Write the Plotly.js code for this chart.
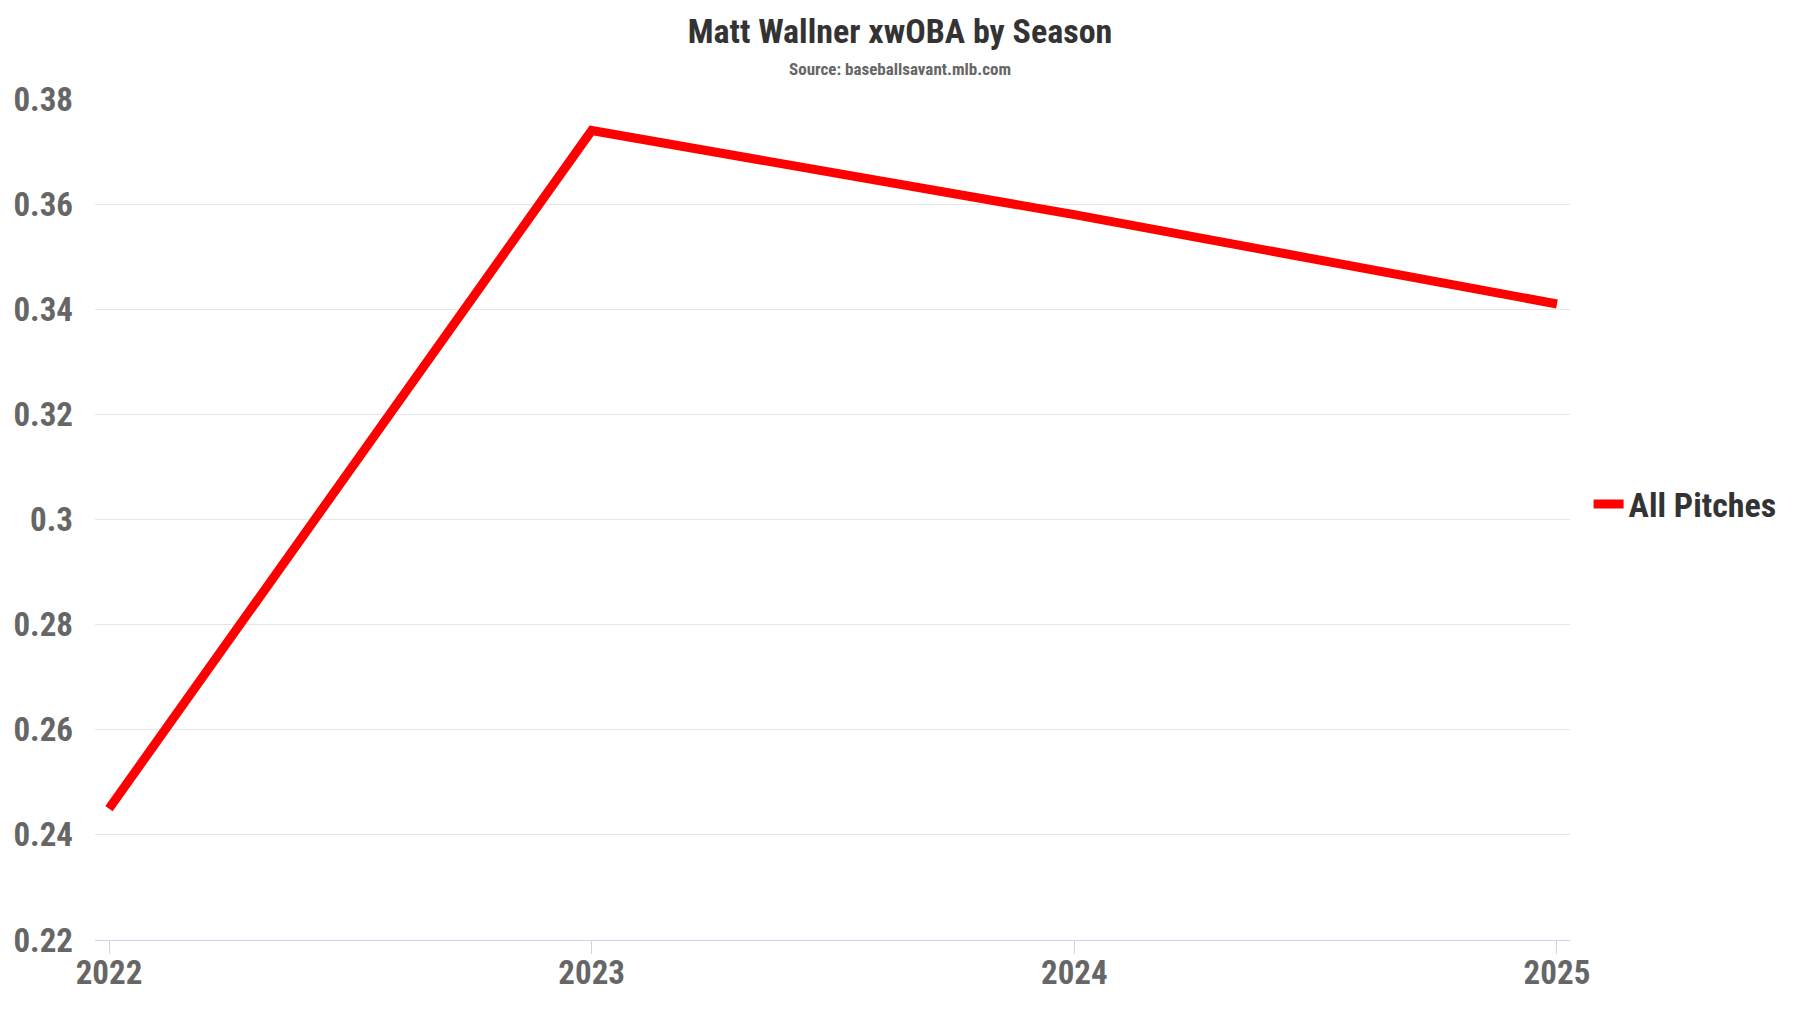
<!DOCTYPE html>
<html>
<head>
<meta charset="utf-8">
<script src="https://cdn.plot.ly/plotly-3.0.1.min.js"></script>
<style>html,body{margin:0;padding:0;background:#fff;}#chart{width:1800px;height:1013px;}</style>
</head>
<body>
<div id="chart"></div>
<script>
const seasons = [2022, 2023, 2024, 2025];
const xwoba = [0.245, 0.374, 0.358, 0.341];
const seriesName = "All Pitches";
const yTicks = [0.22, 0.24, 0.26, 0.28, 0.30, 0.32, 0.34, 0.36, 0.38];
const yTickText = ["0.22", "0.24", "0.26", "0.28", "0.3", "0.32", "0.34", "0.36", "0.38"];
const titleText = "Matt Wallner xwOBA by Season";
const subtitleText = "Source: baseballsavant.mlb.com";

const FONT = "Roboto Condensed, Roboto, sans-serif";

const trace = {
  x: seasons,
  y: xwoba,
  type: "scatter",
  mode: "lines",
  name: seriesName,
  line: {color: "#ff0000", width: 9},
  hoverinfo: "x+y"
};

const layout = {
  width: 1800,
  height: 1013,
  paper_bgcolor: "#ffffff",
  plot_bgcolor: "#ffffff",
  margin: {l: 95, r: 230, t: 99, b: 73},
  font: {family: FONT, weight: 700},
  title: {
    text: titleText,
    font: {family: FONT, size: 34, color: "#333333", weight: 700},
    x: 0.5, xref: "container", xanchor: "center",
    y: 1 - 31 / 1013, yref: "container", yanchor: "middle"
  },
  annotations: [{
    text: subtitleText,
    xref: "paper", yref: "paper",
    x: (900 - 95) / 1475, xanchor: "center",
    y: (940 - 69) / 841, yanchor: "middle",
    showarrow: false,
    font: {family: FONT, size: 17, color: "#666666", weight: 700}
  }],
  xaxis: {
    range: [2021.971, 2025.027],
    tickmode: "array",
    tickvals: seasons,
    ticktext: seasons.map(String),
    showgrid: false,
    zeroline: false,
    showline: true,
    linecolor: "#ccd6eb",
    linewidth: 1,
    ticks: "outside",
    ticklen: 13,
    tickwidth: 1,
    tickcolor: "#ccd6eb",
    ticklabelstandoff: -10,
    tickfont: {family: FONT, size: 33, color: "#666666", weight: 700}
  },
  yaxis: {
    range: [0.22, 0.38],
    tickmode: "array",
    tickvals: yTicks,
    ticktext: yTickText,
    showgrid: true,
    gridcolor: "#e6e6e6",
    gridwidth: 1,
    zeroline: false,
    showline: false,
    ticks: "",
    ticklabelstandoff: 21,
    tickfont: {family: FONT, size: 33, color: "#666666", weight: 700}
  },
  showlegend: true,
  legend: {
    x: 1.0126, xanchor: "left",
    y: 0.518, yanchor: "middle",
    font: {family: FONT, size: 34, color: "#333333", weight: 700},
    bgcolor: "rgba(0,0,0,0)",
    borderwidth: 0
  }
};

Plotly.newPlot("chart", [trace], layout, {displayModeBar: false, responsive: false});
</script>
</body>
</html>
